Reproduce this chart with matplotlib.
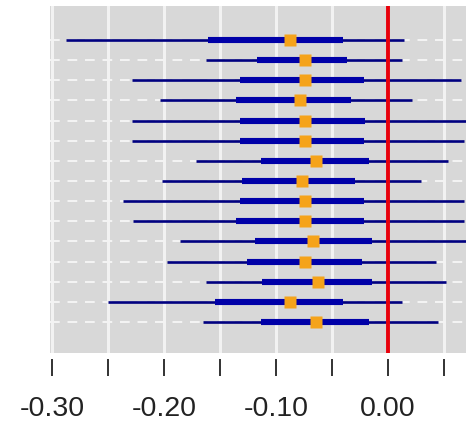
import matplotlib
matplotlib.use("Agg")
import matplotlib.pyplot as plt
import numpy as np

# Data (15 rows, top to bottom)
rows = list(range(1, 16))
lo95 = [-0.2875, -0.1625, -0.229, -0.204, -0.229, -0.229, -0.171, -0.202,
        -0.237, -0.228, -0.186, -0.197, -0.1625, -0.250, -0.165]
lo50 = [-0.161, -0.117, -0.132, -0.136, -0.132, -0.132, -0.113, -0.130,
        -0.132, -0.136, -0.119, -0.126, -0.112, -0.154, -0.113]
est = [-0.0875, -0.074, -0.074, -0.078, -0.074, -0.074, -0.064, -0.077,
       -0.074, -0.074, -0.067, -0.074, -0.0625, -0.0875, -0.064]
hi50 = [-0.040, -0.036, -0.021, -0.033, -0.020, -0.021, -0.017, -0.029,
        -0.021, -0.021, -0.014, -0.023, -0.014, -0.040, -0.017]
hi95 = [0.015, 0.013, 0.066, 0.022, 0.075, 0.068, 0.054, 0.030,
        0.068, 0.068, 0.075, 0.043, 0.052, 0.0125, 0.045]
major_ticks = [-0.30, -0.20, -0.10, 0.00]
minor_ticks = [-0.25, -0.15, -0.05, 0.05]
tick_labels = ["-0.30", "-0.20", "-0.10", "0.00"]

plt.rcParams['font.family'] = ['Liberation Sans', 'DejaVu Sans']

fig = plt.figure(figsize=(4.66, 4.31), dpi=100)
ax = fig.add_axes([50/466, 1-354/431, 1-50/466 + 0.001, 347/431])
ax.set_facecolor('#D8D8D8')

ax.set_xlim(-0.302, 0.0705)
ax.set_ylim(16.54, -0.69)

# grid
for x in major_ticks + minor_ticks:
    ax.axvline(x, color='#F2F2F2', lw=2.2, zorder=1)
for r in rows:
    ax.axhline(r, color='#F4F4F4', lw=1.4, ls=(0, (5, 4)), zorder=1)

ax.hlines(rows, lo95, hi95, color='#000080', lw=1.9, zorder=3)
ax.hlines(rows, lo50, hi50, color='#0000A8', lw=4.4, zorder=4)
ax.axvline(0, color='#E8000B', lw=2.8, zorder=5)
ax.plot(est, rows, ls='none', marker='s', ms=9, color='#F5A31A', mec='none', zorder=6)

for s in ax.spines.values():
    s.set_visible(False)
ax.spines['bottom'].set_position(('outward', 4))
ax.set_yticks([])
ax.set_xticks(major_ticks)
ax.set_xticklabels(tick_labels)
ax.set_xticks(minor_ticks, minor=True)
ax.tick_params(axis='x', which='both', length=12.5, width=1.3, color='#222222',
               direction='out')
ax.tick_params(axis='x', which='major', labelsize=20.5, pad=14, labelcolor='#222222')

fig.savefig('out.png', dpi=100)
